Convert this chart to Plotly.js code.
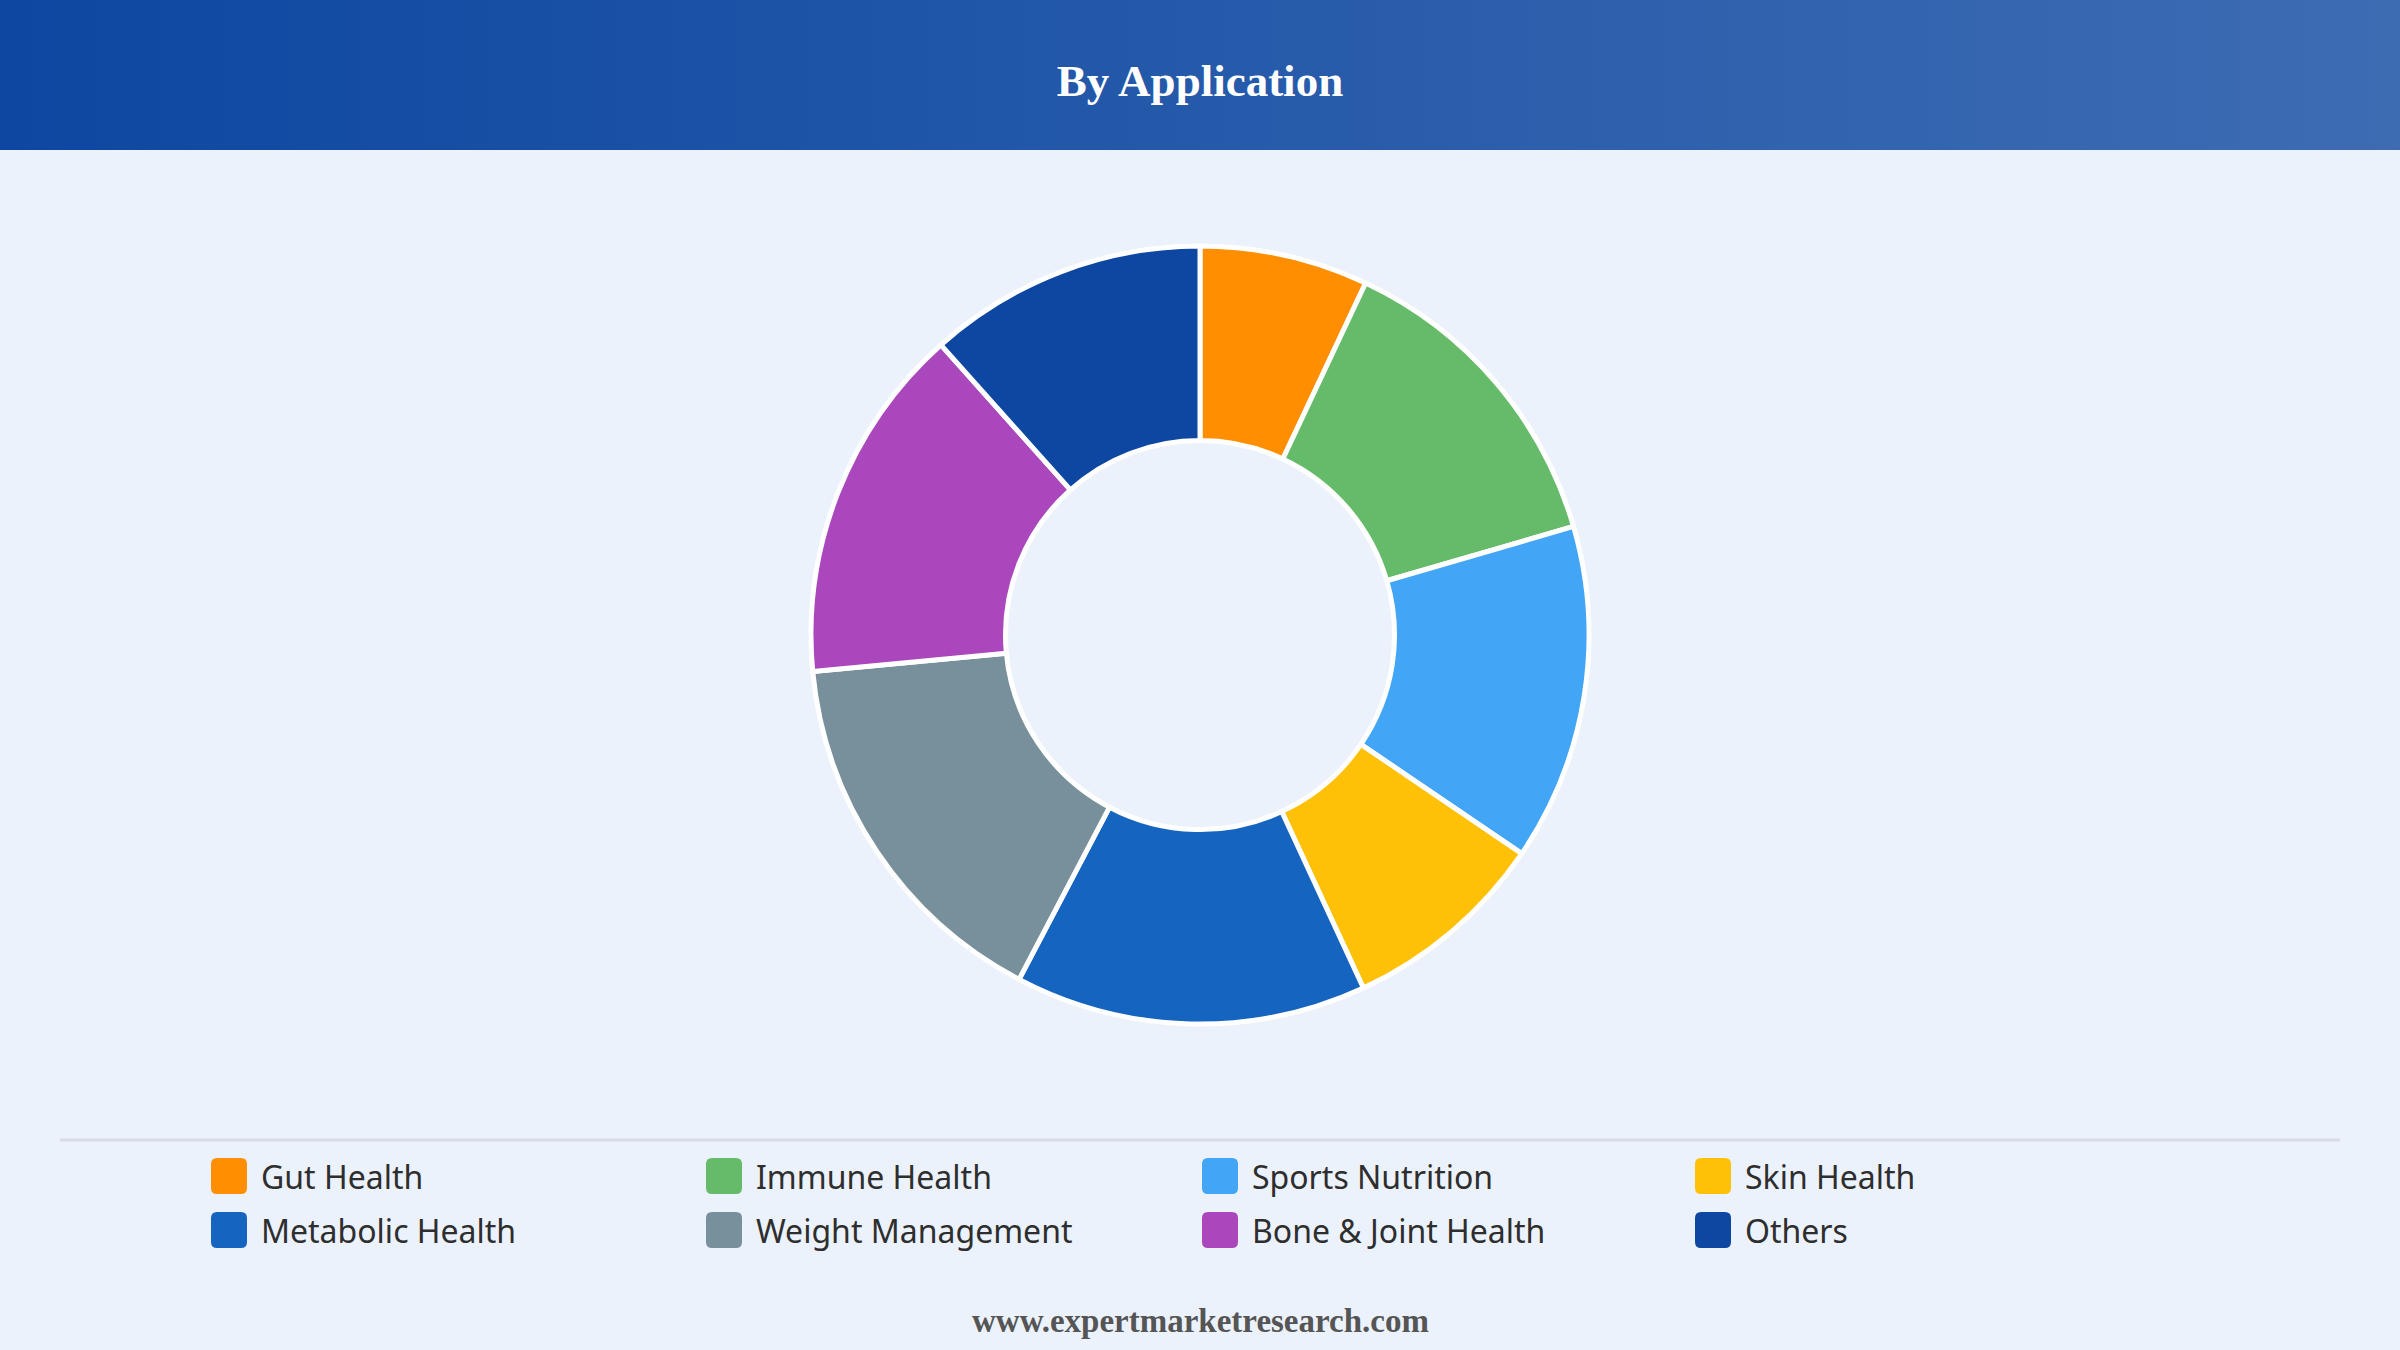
<!DOCTYPE html>
<html>
<head>
<meta charset="utf-8">
<script src="https://cdn.plot.ly/plotly-3.0.1.min.js"></script>
<style>
  html, body { margin: 0; padding: 0; background: #ebf2fb; }
  #header { position: absolute; left: 0; top: 0; width: 2400px; height: 150px;
            background: linear-gradient(to right, #0d47a1, #3d6cb3); }
  #chart { position: absolute; left: 0; top: 0; width: 2400px; height: 1350px; }
</style>
</head>
<body>
<div id="header"></div>
<div id="chart"></div>
<script>
var labels = ["Gut Health", "Immune Health", "Sports Nutrition", "Skin Health",
              "Metabolic Health", "Weight Management", "Bone & Joint Health", "Others"];
var values = [7, 13.5, 14, 8.6, 14.6, 15.8, 14.9, 11.6];
var colors = ["#ff8f00", "#66bb6a", "#42a5f5", "#ffc107",
              "#1565c0", "#78909c", "#ab47bc", "#0d47a1"];

var W = 2400, H = 1350;
function px(x) { return x / W; }
function py(y) { return 1 - y / H; }

// legend: 4 columns x 2 rows of rounded swatches
var colX = [211, 706, 1202, 1695];
var rowY = [1176, 1230];
var shapes = [];
var annotations = [];

shapes.push({
  type: "line", xref: "paper", yref: "paper",
  x0: px(60), x1: px(2340), y0: py(1140), y1: py(1140),
  line: { color: "#d8dce2", width: 3 }
});

function roundRect(x0, y0, w, h, r) {
  var L = px(x0), R = px(x0 + w), T = py(y0), B = py(y0 + h);
  var rx = r / W, ry = r / H;
  return "M" + (L + rx) + "," + T +
    " L" + (R - rx) + "," + T + " Q" + R + "," + T + " " + R + "," + (T - ry) +
    " L" + R + "," + (B + ry) + " Q" + R + "," + B + " " + (R - rx) + "," + B +
    " L" + (L + rx) + "," + B + " Q" + L + "," + B + " " + L + "," + (B + ry) +
    " L" + L + "," + (T - ry) + " Q" + L + "," + T + " " + (L + rx) + "," + T + " Z";
}

labels.forEach(function (lab, i) {
  var cx = colX[i % 4], cy = rowY[Math.floor(i / 4)];
  shapes.push({
    type: "path", xref: "paper", yref: "paper",
    path: roundRect(cx, cy - 18, 36, 36, 6),
    fillcolor: colors[i], line: { width: 0 }
  });
  annotations.push({
    xref: "paper", yref: "paper", x: px(cx + 48), y: py(cy),
    xanchor: "left", yanchor: "middle", showarrow: false,
    text: lab.replace("&", "&amp;"),
    font: { family: "Noto Sans", size: 32, color: "#2e2e2e" }
  });
});

annotations.push({
  xref: "paper", yref: "paper", x: 0.5, y: py(1321),
  xanchor: "center", yanchor: "middle", showarrow: false,
  text: "<b>www.expertmarketresearch.com</b>",
  font: { family: "Liberation Serif", size: 33, color: "#555555" }
});

var trace = {
  type: "pie",
  labels: labels,
  values: values,
  sort: false,
  direction: "clockwise",
  rotation: 0,
  hole: 0.5,
  textinfo: "none",
  hoverinfo: "label+percent",
  marker: { colors: colors, line: { color: "#ffffff", width: 5 } },
  domain: { x: [0, 1], y: [py(1024), py(246)] }
};

var layout = {
  width: W, height: H,
  margin: { t: 0, b: 0, l: 0, r: 0, pad: 0 },
  paper_bgcolor: "rgba(0,0,0,0)",
  plot_bgcolor: "rgba(0,0,0,0)",
  showlegend: false,
  title: {
    text: "<b>By Application</b>",
    x: 0.5, xanchor: "center",
    yref: "container", y: 1 - 80 / H, yanchor: "middle",
    font: { family: "Liberation Serif", size: 45, color: "#ffffff" }
  },
  shapes: shapes,
  annotations: annotations
};

Plotly.newPlot("chart", [trace], layout, { displayModeBar: false });
</script>
</body>
</html>
